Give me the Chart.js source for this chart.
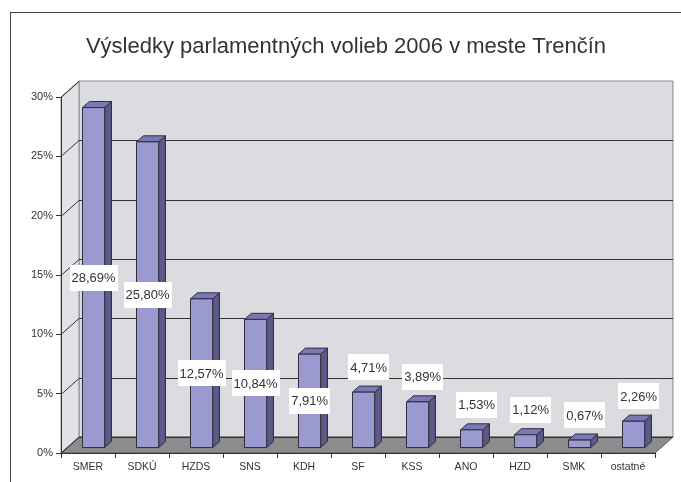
<!DOCTYPE html>
<html>
<head>
<meta charset="utf-8">
<script src="https://cdn.jsdelivr.net/npm/chart.js@4/dist/chart.umd.min.js"></script>
<style>
  html, body { margin: 0; padding: 0; background: #fff; }
  #wrap { width: 681px; height: 482px; }
</style>
</head>
<body>
<div id="wrap"><canvas id="graf"></canvas></div>
<script>
const kategorie = ["SMER", "SDKÚ", "HZDS", "SNS", "KDH", "SF", "KSS", "ANO", "HZD", "SMK", "ostatné"];
const hodnoty = [28.69, 25.80, 12.57, 10.84, 7.91, 4.71, 3.89, 1.53, 1.12, 0.67, 2.26];
const osY = [0, 5, 10, 15, 20, 25, 30];
const nadpis = "Výsledky parlamentných volieb 2006 v meste Trenčín";

// 3D hlbka grafu (v pixeloch) a umiestnenie stlpcov v nej
const DX = 18, DY = -16;
const F0 = 0.31, FD = 0.38;
const hranicaStred = 6; // pod touto hodnotou je popis nad stlpcom
const pismo = "'Liberation Sans', Arial, sans-serif";

function poly(ctx, body, fill, stroke) {
  ctx.beginPath();
  ctx.moveTo(body[0][0], body[0][1]);
  for (let i = 1; i < body.length; i++) ctx.lineTo(body[i][0], body[i][1]);
  ctx.closePath();
  if (fill) { ctx.fillStyle = fill; ctx.fill(); }
  if (stroke) { ctx.strokeStyle = stroke; ctx.stroke(); }
}

const steny = {
  id: "steny",
  beforeDraw(chart) {
    const ctx = chart.ctx;
    const a = chart.chartArea;
    const y = chart.scales.y;
    ctx.save();
    ctx.lineWidth = 1;
    ctx.strokeStyle = "#444";
    ctx.strokeRect(10.5, 12.5, 720, 520);

    // nadpis
    ctx.font = "22px " + pismo;
    ctx.fillStyle = "#333";
    ctx.textAlign = "center";
    ctx.textBaseline = "middle";
    ctx.fillText(nadpis, 346, 47);

    // zadna stena
    poly(ctx, [[a.left + DX, a.top + DY], [a.right + DX, a.top + DY], [a.right + DX, a.bottom + DY], [a.left + DX, a.bottom + DY]], "#dcdce0", "#8a8a8a");
    // lava stena
    poly(ctx, [[a.left, a.top], [a.left + DX, a.top + DY], [a.left + DX, a.bottom + DY], [a.left, a.bottom]], "#e2e2e6", "#8a8a8a");
    // podlaha
    poly(ctx, [[a.left, a.bottom], [a.right, a.bottom], [a.right + DX, a.bottom + DY], [a.left + DX, a.bottom + DY]], "#8c8c8c", "#555");

    ctx.strokeStyle = "#333";
    osY.forEach((v) => {
      const py = Math.round(y.getPixelForValue(v)) + 0.5;
      ctx.beginPath();
      ctx.moveTo(a.left, py);
      ctx.lineTo(a.left + DX, py + DY);
      if (v < osY[osY.length - 1]) ctx.lineTo(a.right + DX, py + DY);
      ctx.stroke();
    });
    ctx.restore();
  },
  afterDatasetsDraw(chart) {
    const ctx = chart.ctx;
    const meta = chart.getDatasetMeta(0);
    const ox = DX * F0, oy = DY * F0;
    const bx = DX * FD, by = DY * FD;
    ctx.save();
    ctx.lineWidth = 1;
    ctx.lineJoin = "round";
    meta.data.forEach((el, i) => {
      const l = el.x - el.width / 2 + ox;
      const r = el.x + el.width / 2 + ox;
      const t = el.y + oy;
      const b = el.base + oy;
      poly(ctx, [[r, t], [r + bx, t + by], [r + bx, b + by], [r, b]], "#5e5887", "#2e2e3e");
      poly(ctx, [[l, t], [r, t], [r + bx, t + by], [l + bx, t + by]], "#7b78b6", "#2e2e3e");
      poly(ctx, [[l, t], [r, t], [r, b], [l, b]], "#9a9ad0", "#2e2e3e");
    });

    // popisy hodnot
    ctx.font = "13px " + pismo;
    ctx.textAlign = "center";
    ctx.textBaseline = "middle";
    meta.data.forEach((el, i) => {
      const v = hodnoty[i];
      const text = v.toFixed(2).replace(".", ",") + "%";
      const t = el.y + oy;
      const b = el.base + oy;
      let cx = el.x + ox, cy;
      if (v >= hranicaStred) {
        cy = (t + b) / 2;
      } else {
        cy = t - 25;
        cx += 5;
      }
      const w = ctx.measureText(text).width + 4;
      const h = 26;
      ctx.fillStyle = "#fff";
      ctx.fillRect(Math.round(cx - w / 2), Math.round(cy - h / 2), Math.round(w), h);
      ctx.fillStyle = "#333";
      ctx.fillText(text, cx, cy + 1);
    });
    ctx.restore();
  }
};

const ctx = document.getElementById("graf");
new Chart(ctx, {
  type: "bar",
  data: {
    labels: kategorie,
    datasets: [
      {
        label: "Výsledky",
        data: hodnoty,
        backgroundColor: "rgba(0,0,0,0)",
        borderWidth: 0,
        barPercentage: 0.41,
        categoryPercentage: 1,
      },
    ],
  },
  options: {
    responsive: true,
    maintainAspectRatio: false,
    animation: false,
    layout: { padding: { left: 8, right: 26, top: 97, bottom: 0 } },
    plugins: {
      legend: { display: false },
      tooltip: { enabled: false },
      title: { display: false },
    },
    scales: {
      x: {
        afterFit(scale) { scale.height = 29; },
        grid: { offset: true, drawOnChartArea: false, drawTicks: true, tickLength: 5, color: "#333" },
        border: { display: true, color: "#333" },
        ticks: { color: "#333", padding: 3, font: { family: pismo, size: 10.5 } },
      },
      y: {
        min: 0,
        max: 30,
        afterFit(scale) { scale.width = 53; },
        afterBuildTicks(scale) { scale.ticks = osY.map((v) => ({ value: v })); },
        grid: { drawOnChartArea: false, drawTicks: true, tickLength: 5, color: "#333" },
        border: { display: true, color: "#333" },
        ticks: {
          color: "#333",
          padding: 3,
          font: { family: pismo, size: 11 },
          callback: (v) => v + "%",
        },
      },
    },
  },
  plugins: [steny],
});
</script>
</body>
</html>
